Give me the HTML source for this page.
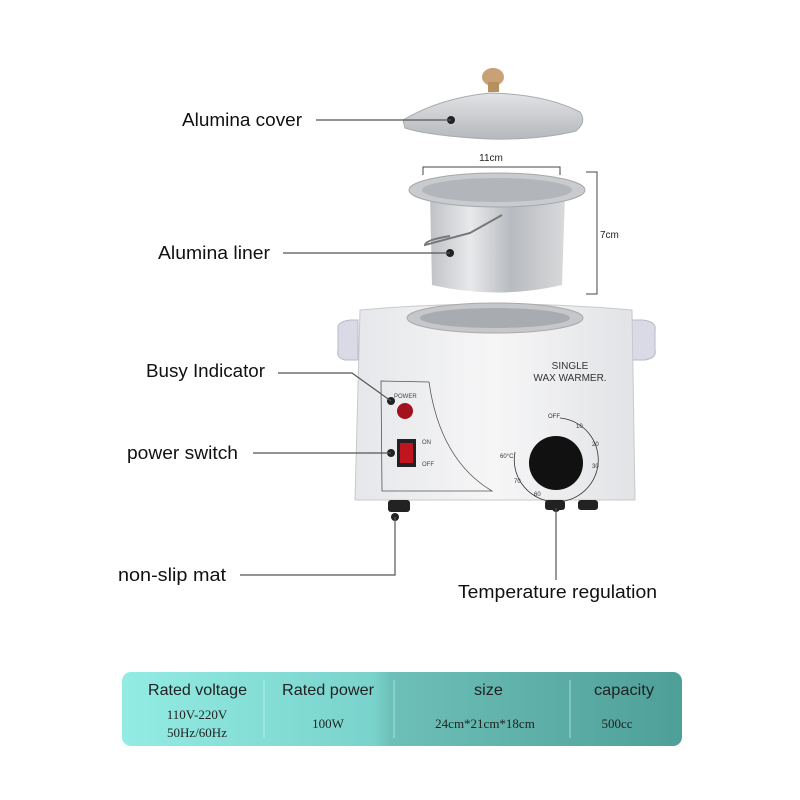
<!DOCTYPE html>
<html><head><meta charset="utf-8"><style>
html,body{margin:0;padding:0;background:#fff}
svg{display:block}
text{font-family:"Liberation Sans",sans-serif}
.s{font-family:"Liberation Serif",serif}
</style></head><body>
<svg width="800" height="800" viewBox="0 0 800 800" xmlns="http://www.w3.org/2000/svg">
<defs>
<linearGradient id="metal" x1="0" x2="1" y1="0" y2="0">
<stop offset="0" stop-color="#bfc2c6"/><stop offset="0.3" stop-color="#e8e9eb"/><stop offset="0.6" stop-color="#b8bbbf"/><stop offset="1" stop-color="#d8d9db"/></linearGradient>
<linearGradient id="lid" x1="0" x2="0" y1="0" y2="1">
<stop offset="0" stop-color="#e2e3e5"/><stop offset="1" stop-color="#b5b8bc"/></linearGradient>
<linearGradient id="tbl" x1="0" x2="1">
<stop offset="0" stop-color="#93ece3"/><stop offset="0.45" stop-color="#79d3cc"/><stop offset="0.48" stop-color="#6dc0b8"/><stop offset="1" stop-color="#4e9f97"/></linearGradient>
<linearGradient id="body" x1="0" x2="1">
<stop offset="0" stop-color="#e6e7ea"/><stop offset="0.5" stop-color="#f6f6f7"/><stop offset="1" stop-color="#e2e3e6"/></linearGradient>
</defs>

<!-- lid -->
<ellipse cx="493" cy="77" rx="11" ry="9" fill="#c8a276"/>
<rect x="488" y="82" width="11" height="10" fill="#b8905f"/>
<path d="M403 120 Q440 98 490 93 Q545 94 580 112 Q587 122 576 131 Q540 140 490 139 Q430 136 405 128 Z" fill="url(#lid)" stroke="#a8abaf"/>
<circle cx="451" cy="120" r="4" fill="#222"/>

<!-- dims -->
<path d="M423 175 V167 H560 V175" fill="none" stroke="#444"/>
<text x="491" y="161" font-size="10" text-anchor="middle" fill="#222">11cm</text>
<path d="M586 172 H597 V294 H586" fill="none" stroke="#444"/>
<text x="600" y="238" font-size="10" fill="#222">7cm</text>

<!-- liner -->
<path d="M430 195 L432 285 Q497 300 562 285 L565 195 Z" fill="url(#metal)"/>
<ellipse cx="497" cy="190" rx="88" ry="17" fill="#c9cbce" stroke="#a5a8ac"/>
<ellipse cx="497" cy="190" rx="75" ry="12" fill="#b2b5b9"/>
<path d="M450 236 Q425 240 425 245 L470 233 L502 215" fill="none" stroke="#777" stroke-width="2"/>
<circle cx="450" cy="253" r="4" fill="#222"/>

<!-- warmer body -->
<path d="M338 330 Q336 322 350 320 L358 320 L358 360 L345 360 Q336 358 338 350 Z" fill="#d9dae6" stroke="#b8b9c8"/>
<path d="M655 330 Q657 322 643 320 L632 320 L632 360 L645 360 Q657 358 655 350 Z" fill="#d9dae6" stroke="#b8b9c8"/>
<path d="M360 310 Q495 298 632 310 L635 500 L355 500 Z" fill="url(#body)" stroke="#c8c9cc"/>
<ellipse cx="495" cy="318" rx="88" ry="15" fill="#c5c7cb" stroke="#aaa"/>
<ellipse cx="495" cy="318" rx="75" ry="10" fill="#a8abb0"/>
<path d="M381 381 L429 382 Q440 460 492 491 L382 491 Z" fill="none" stroke="#555" stroke-width="0.8"/>
<text x="394" y="398" font-size="6" fill="#444">POWER</text>
<circle cx="405" cy="411" r="8" fill="#a3111c"/>
<rect x="397" y="439" width="19" height="28" fill="#222"/>
<rect x="400" y="443" width="13" height="20" fill="#c0141e"/>
<text x="422" y="444" font-size="6" fill="#444">ON</text>
<text x="422" y="466" font-size="6" fill="#444">OFF</text>
<circle cx="391" cy="401" r="4" fill="#222"/>
<circle cx="391" cy="453" r="4" fill="#222"/>
<text x="570" y="369" font-size="10" text-anchor="middle" fill="#333">SINGLE</text>
<text x="570" y="381" font-size="10" text-anchor="middle" fill="#333">WAX WARMER.</text>
<path d="M560 418 A42 42 0 1 1 515 452" fill="none" stroke="#333" stroke-width="0.8"/>
<text x="548" y="418" font-size="6" fill="#333">OFF</text>
<text x="576" y="428" font-size="6" fill="#333">10</text>
<text x="592" y="446" font-size="6" fill="#333">20</text>
<text x="592" y="468" font-size="6" fill="#333">30</text>
<text x="500" y="458" font-size="6" fill="#333">60°C</text>
<text x="514" y="483" font-size="6" fill="#333">70</text>
<text x="534" y="496" font-size="6" fill="#333">60</text>
<circle cx="556" cy="463" r="27" fill="#111"/>
<!-- feet -->
<rect x="388" y="500" width="22" height="12" rx="3" fill="#222"/>
<rect x="545" y="500" width="20" height="10" rx="3" fill="#222"/>
<rect x="578" y="500" width="20" height="10" rx="3" fill="#222"/>
<circle cx="395" cy="517" r="4" fill="#222"/>
<circle cx="556" cy="508" r="4" fill="#222"/>

<!-- leader lines -->
<g stroke="#555" stroke-width="1.2" fill="none">
<line x1="316" y1="120" x2="451" y2="120"/>
<line x1="283" y1="253" x2="450" y2="253"/>
<path d="M278 373 H352 L391 401"/>
<line x1="253" y1="453" x2="391" y2="453"/>
<path d="M240 575 H395 V517"/>
<line x1="556" y1="508" x2="556" y2="580"/>
</g>
<g font-size="18" fill="#111">
<text x="182" y="126" textLength="120" lengthAdjust="spacingAndGlyphs">Alumina cover</text>
<text x="158" y="259" textLength="112" lengthAdjust="spacingAndGlyphs">Alumina liner</text>
<text x="146" y="377" textLength="119" lengthAdjust="spacingAndGlyphs">Busy Indicator</text>
<text x="127" y="459" textLength="111" lengthAdjust="spacingAndGlyphs">power switch</text>
<text x="118" y="581" textLength="108" lengthAdjust="spacingAndGlyphs">non-slip mat</text>
<text x="458" y="598" textLength="199" lengthAdjust="spacingAndGlyphs">Temperature regulation</text>
</g>

<!-- table -->
<rect x="122" y="672" width="560" height="74" rx="9" fill="url(#tbl)"/>
<g stroke="#c8f2ee" stroke-width="1" opacity="0.7">
<line x1="264" y1="680" x2="264" y2="738"/><line x1="394" y1="680" x2="394" y2="738"/><line x1="570" y1="680" x2="570" y2="738"/>
</g>
<g font-size="16" fill="#222">
<text x="148" y="695" textLength="99" lengthAdjust="spacingAndGlyphs">Rated voltage</text>
<text x="282" y="695" textLength="92" lengthAdjust="spacingAndGlyphs">Rated power</text>
<text x="474" y="695" textLength="29" lengthAdjust="spacingAndGlyphs">size</text>
<text x="594" y="695" textLength="60" lengthAdjust="spacingAndGlyphs">capacity</text>
</g>
<g font-size="13" fill="#222" text-anchor="middle">
<text class="s" x="197" y="719">110V-220V</text>
<text class="s" x="197" y="737">50Hz/60Hz</text>
<text class="s" x="328" y="728">100W</text>
<text class="s" x="485" y="728">24cm*21cm*18cm</text>
<text class="s" x="617" y="728">500cc</text>
</g>
</svg>
</body></html>
